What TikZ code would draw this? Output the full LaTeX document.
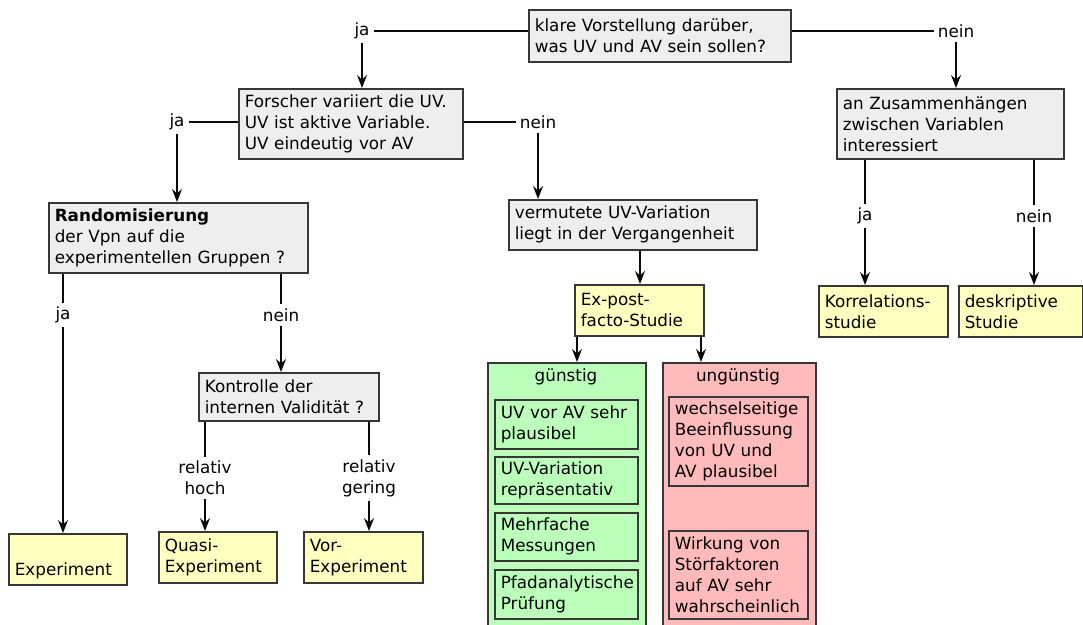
\documentclass[tikz,border=0pt]{standalone}
\usepackage{fontspec}
\setmainfont{DejaVu Sans}
\usetikzlibrary{arrows.meta}
\newcommand\dfont{\fontsize{16.8}{21}\selectfont}
\definecolor{greyc}{RGB}{238,238,238}
\definecolor{yelc}{RGB}{255,255,192}
\definecolor{grnc}{RGB}{187,255,187}
\definecolor{redc}{RGB}{255,187,187}
\definecolor{bordc}{RGB}{55,55,55}
\definecolor{linec}{RGB}{10,10,10}
\tikzset{
  box/.style={draw=bordc, line width=1.6pt, anchor=north west, inner xsep=6pt, inner ysep=0pt, align=left, font=\dfont},
  lbl/.style={font=\dfont, inner sep=4pt, align=center},
  conn/.style={draw=linec, line width=1.6pt},
  arr/.style={conn, -{Stealth[length=13pt,width=10pt,inset=4.5pt]}},
}
\begin{document}
\begin{tikzpicture}[x=1pt,y=-1pt]
\useasboundingbox (0,0) rectangle (1083,624);
\fill[white] (0,0) rectangle (1083,624);
% boxes
\node[box, fill=greyc, text width=250pt, minimum height=52pt] (top) at (528,9) {klare Vorstellung darüber,\\was UV und AV sein sollen?};
\node[box, fill=greyc, text width=212pt, minimum height=70pt] (forscher) at (238,88) {Forscher variiert die UV.\\UV ist aktive Variable.\\UV eindeutig vor AV};
\node[box, fill=greyc, text width=215pt, minimum height=70pt] (zus) at (836,88) {an Zusammenhängen\\zwischen Variablen\\interessiert};
\node[box, fill=greyc, text width=247pt, minimum height=70pt] (rand) at (48,202) {\textbf{Randomisierung}\\der Vpn auf die\\experimentellen Gruppen ?};
\node[box, fill=greyc, text width=236pt, minimum height=50pt] (verm) at (508,199) {vermutete UV-Variation\\liegt in der Vergangenheit};
\node[box, fill=yelc, text width=117pt, minimum height=51pt] (expost) at (574,284) {Ex-post-\\facto-Studie};
\node[box, fill=grnc, text width=146pt, minimum height=275pt] (gue) at (487,362) {};
\node[box, fill=redc, text width=141pt, minimum height=275pt] (ung) at (662,362) {};
\node[lbl] (gt) at (566,377) {günstig};
\node[lbl] (ut) at (738,377) {ungünstig};
\node[box, fill=grnc, text width=131pt, minimum height=49pt] (g1) at (494,399) {UV vor AV sehr\\plausibel};
\node[box, fill=grnc, text width=131pt, minimum height=47pt] (g2) at (494,456) {UV-Variation\\repräsentativ};
\node[box, fill=grnc, text width=131pt, minimum height=48pt] (g3) at (494,512) {Mehrfache\\Messungen};
\node[box, fill=grnc, text width=131pt, minimum height=49pt] (g4) at (494,569) {Pfadanalytische\\Prüfung};
\node[box, fill=redc, text width=127pt, minimum height=89pt] (u1) at (668,396) {wechselseitige\\Beeinflussung\\von UV und\\AV plausibel};
\node[box, fill=redc, text width=127pt, minimum height=88pt] (u2) at (668,530) {Wirkung von\\Störfaktoren\\auf AV sehr\\wahrscheinlich};
\node[box, fill=yelc, text width=117pt, minimum height=51pt] (kor) at (818,285) {Korrelations-\\studie};
\node[box, fill=yelc, text width=112pt, minimum height=51pt] (desk) at (958,285) {deskriptive\\Studie};
\node[box, fill=greyc, text width=168pt, minimum height=48pt] (kon) at (198,372) {Kontrolle der\\internen Validität ?};
\node[box, fill=yelc, text width=106pt, minimum height=51pt] (exp) at (8,533) {\strut\\Experiment};
\node[box, fill=yelc, text width=106pt, minimum height=51pt] (quasi) at (158,531) {Quasi-\\Experiment};
\node[box, fill=yelc, text width=107pt, minimum height=51pt] (vor) at (303,531) {Vor-\\Experiment};
% labels
\node[lbl] (ja1) at (362,31) {ja};
\node[lbl] (nein1) at (956,31) {nein};
\node[lbl] (ja2) at (177,122) {ja};
\node[lbl] (nein2) at (538,122) {nein};
\node[lbl] (ja3) at (63,315) {ja};
\node[lbl] (nein3) at (281,315) {nein};
\node[lbl] (rh) at (205,478) {relativ\\hoch};
\node[lbl] (rg) at (369,478) {relativ\\gering};
\node[lbl] (ja4) at (865,216) {ja};
\node[lbl] (nein4) at (1034,216) {nein};
% connectors
\draw[conn] (ja1.east) -- (ja1 -| top.west);
\draw[arr] (ja1.south) -- (ja1 |- forscher.north);
\draw[conn] (nein1.west) -- (nein1 -| top.east);
\draw[arr] (nein1.south) -- (nein1 |- zus.north);
\draw[conn] (ja2.east) -- (ja2 -| forscher.west);
\draw[arr] (ja2.south) -- (ja2 |- rand.north);
\draw[conn] (nein2.west) -- (nein2 -| forscher.east);
\draw[arr] (nein2.south) -- (nein2 |- verm.north);
\draw[conn] (ja3 |- rand.south) -- (ja3.north);
\draw[arr] (ja3.south) -- (ja3 |- exp.north);
\draw[conn] (nein3 |- rand.south) -- (nein3.north);
\draw[arr] (nein3.south) -- (nein3 |- kon.north);
\draw[conn] (rh |- kon.south) -- (rh.north);
\draw[arr] (rh.south) -- (rh |- quasi.north);
\draw[conn] (rg |- kon.south) -- (rg.north);
\draw[arr] (rg.south) -- (rg |- vor.north);
\draw[conn] (ja4 |- zus.south) -- (ja4.north);
\draw[arr] (ja4.south) -- (ja4 |- kor.north);
\draw[conn] (nein4 |- zus.south) -- (nein4.north);
\draw[arr] (nein4.south) -- (nein4 |- desk.north);
\coordinate (vm) at (640,0);
\draw[arr] (vm |- verm.south) -- (vm |- expost.north);
\coordinate (e1) at (577,0);
\coordinate (e2) at (701,0);
\draw[arr] (e1 |- expost.south) -- (e1 |- gue.north);
\draw[arr] (e2 |- expost.south) -- (e2 |- ung.north);
\end{tikzpicture}
\end{document}
